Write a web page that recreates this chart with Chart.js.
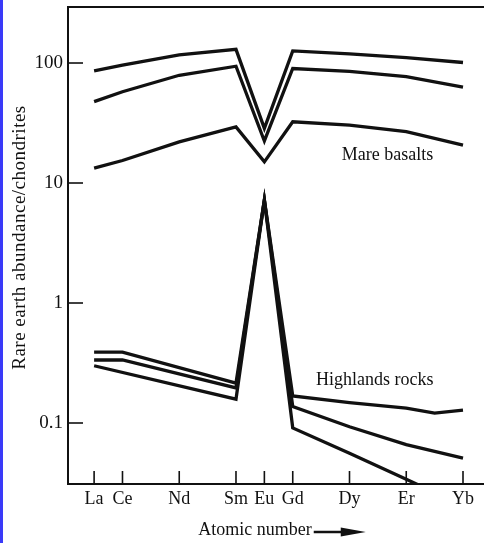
<!DOCTYPE html>
<html>
<head>
<meta charset="utf-8">
<title>Rare earth abundances</title>
<script src="https://cdn.jsdelivr.net/npm/chart.js@4.4.1/dist/chart.umd.min.js"></script>
<style>
  html, body { margin: 0; padding: 0; background: #fff; }
  #wrap { position: relative; width: 484px; height: 543px; overflow: hidden; }
  #edge { position: absolute; left: 0; top: 0; width: 3px; height: 543px; background: #3a3af8; }
</style>
</head>
<body>
<div id="wrap">
  <canvas id="reeChart" width="484" height="543"></canvas>
  <div id="edge"></div>
</div>
<script>
  // element order along the x axis (atomic number)
  const elements = ["La", "Ce", "Nd", "Sm", "Eu", "Gd", "Dy", "Er", "Tm", "Yb"];
  const atomicNumbers = [57, 58, 60, 62, 63, 64, 66, 68, 69, 70];
  const tickElements = ["La", "Ce", "Nd", "Sm", "Eu", "Gd", "Dy", "Er", "Yb"];
  const yTicks = [0.1, 1, 10, 100];

  // chondrite-normalised abundances, null = not plotted
  const mareHigh = [86, 96, 117, 130, 28.5, 126, 119, 111, null, 101];
  const mareMid = [47.7, 57.6, 79, 94, 22.4, 90, 85, 77, null, 63];
  const mareLow = [13.3, 15.4, 22, 29.3, 15.0, 32.4, 30.4, 26.8, null, 20.7];
  const highlandsA = [0.39, 0.39, null, 0.215, 7.2, 0.168, 0.148, 0.133, 0.121, 0.128];
  const highlandsB = [0.335, 0.335, null, 0.196, 7.2, 0.137, 0.093, 0.066, null, 0.051];
  const highlandsC = [0.3, null, null, 0.158, 7.2, 0.091, 0.056, 0.034, null, 0.0204];

  const INK = "#111";
  const SERIF = "'Liberation Serif', 'DejaVu Serif', serif";

  function toPoints(values) {
    return values
      .map((v, i) => ({ x: atomicNumbers[i], y: v }))
      .filter((p) => p.y !== null);
  }

  function series(label, values) {
    return {
      label: label,
      data: toPoints(values),
      borderColor: INK,
      borderWidth: 3.3,
      borderJoinStyle: "miter",
      pointRadius: 0,
      tension: 0,
      fill: false,
    };
  }

  function zOf(el) {
    return atomicNumbers[elements.indexOf(el)];
  }

  // frame top, inward ticks, group labels and axis titles
  const inkPlugin = {
    id: "ink",
    afterDraw(chart) {
      const { ctx, chartArea: a, scales } = chart;
      const x = scales.x;
      const y = scales.y;
      const line = (x1, y1, x2, y2) => {
        ctx.beginPath();
        ctx.moveTo(x1, y1);
        ctx.lineTo(x2, y2);
        ctx.stroke();
      };
      ctx.save();
      ctx.strokeStyle = INK;
      ctx.fillStyle = INK;
      ctx.lineWidth = 2;
      line(a.left - 1, a.top, a.right, a.top);

      ctx.lineWidth = 1.6;
      yTicks.forEach((v) => {
        const py = y.getPixelForValue(v);
        line(a.left, py, a.left + 15, py);
      });
      tickElements.forEach((el) => {
        const px = x.getPixelForValue(zOf(el));
        line(px, a.bottom, px, a.bottom - 13);
      });

      ctx.font = "18px " + SERIF;
      ctx.textAlign = "left";
      ctx.textBaseline = "middle";
      ctx.fillText("Mare basalts", x.getPixelForValue(65.73), y.getPixelForValue(17.1));
      ctx.fillText("Highlands rocks", x.getPixelForValue(64.82), y.getPixelForValue(0.228));

      // x title with arrow
      const xt = "Atomic number";
      const tw = ctx.measureText(xt).width;
      const arrowLen = 52;
      const startX = (a.left + a.right) / 2 + 6 - (tw + arrowLen + 2) / 2;
      const ty = 530;
      ctx.fillText(xt, startX, ty);
      const ax0 = startX + tw + 2;
      const ax1 = ax0 + arrowLen;
      ctx.lineWidth = 2.6;
      line(ax0, ty + 2, ax1 - 20, ty + 2);
      ctx.beginPath();
      ctx.moveTo(ax1 - 25, ty - 2.5);
      ctx.lineTo(ax1, ty + 2);
      ctx.lineTo(ax1 - 25, ty + 6.5);
      ctx.closePath();
      ctx.fill();

      // y title
      ctx.save();
      ctx.translate(20, (a.top + a.bottom) / 2 - 8);
      ctx.rotate(-Math.PI / 2);
      ctx.font = "19px " + SERIF;
      ctx.letterSpacing = "0.5px";
      ctx.textAlign = "center";
      ctx.fillText("Rare earth abundance/chondrites", 0, 0);
      ctx.restore();
      ctx.restore();
    },
  };

  const chart = new Chart(document.getElementById("reeChart"), {
    type: "line",
    data: {
      datasets: [
        series("Mare basalts 1", mareHigh),
        series("Mare basalts 2", mareMid),
        series("Mare basalts 3", mareLow),
        series("Highlands rocks 1", highlandsA),
        series("Highlands rocks 2", highlandsB),
        series("Highlands rocks 3", highlandsC),
      ],
    },
    options: {
      responsive: false,
      animation: false,
      devicePixelRatio: 1,
      layout: { padding: { top: 7, left: 0, right: 0, bottom: 0 } },
      plugins: {
        legend: { display: false },
        tooltip: { enabled: false },
      },
      scales: {
        x: {
          type: "linear",
          min: 56.08,
          max: 70.74,
          afterBuildTicks: (scale) => {
            scale.ticks = tickElements.map((el) => ({ value: zOf(el) }));
          },
          afterFit: (scale) => {
            scale.height = 59;
            scale.paddingLeft = 0;
            scale.paddingRight = 0;
          },
          ticks: {
            autoSkip: false,
            maxRotation: 0,
            padding: 4,
            color: INK,
            font: { family: SERIF, size: 18 },
            callback: (v) => elements[atomicNumbers.indexOf(v)],
          },
          grid: { display: false, drawTicks: false },
          border: { display: true, color: INK, width: 2 },
        },
        y: {
          type: "logarithmic",
          min: 0.03102,
          max: 292.9,
          afterBuildTicks: (scale) => {
            scale.ticks = yTicks.map((v) => ({ value: v }));
          },
          afterFit: (scale) => {
            scale.width = 68;
            scale.paddingTop = 0;
            scale.paddingBottom = 0;
          },
          ticks: {
            autoSkip: false,
            padding: 5,
            color: INK,
            font: { family: SERIF, size: 19 },
            callback: (v) => String(v),
          },
          grid: { display: false, drawTicks: false },
          border: { display: true, color: INK, width: 2 },
        },
      },
    },
    plugins: [inkPlugin],
  });
</script>
</body>
</html>
